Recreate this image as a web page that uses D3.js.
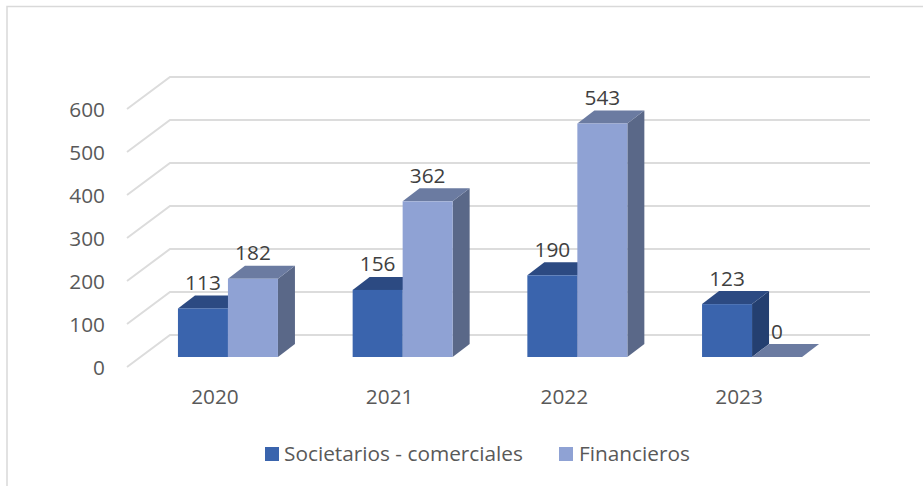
<!DOCTYPE html>
<html>
<head>
<meta charset="utf-8">
<script src="https://cdn.jsdelivr.net/npm/d3@7"></script>
<style>
html,body{margin:0;padding:0;background:#fff;overflow:hidden}
svg{display:block}
text{font-family:"Open Sans",sans-serif}
</style>
</head>
<body>
<svg id="chart" width="923" height="486"></svg>
<script>
const categories = ["2020","2021","2022","2023"];
const seriesNames = ["Societarios - comerciales","Financieros"];
const societarios = [113,156,190,123];
const financieros = [182,362,543,0];
const yTicks = [0,100,200,300,400,500,600];
const seriesColors = [
  {front:"#3A64AD",top:"#2C4A82",side:"#243F70"},
  {front:"#8FA2D4",top:"#6B7BA1",side:"#5A6888"}
];

const svg = d3.select("#chart");
const wallDx = 43, wallDy = -32;      // floor depth of the 3D box
const barInset = 10;                  // bars stand this far up the floor
const barDx = 17, barDy = -13;        // bar depth
const barW = 50;
const fontSize = 20.8;

const x = d3.scaleBand().domain(categories).range([127.6,826.4]).padding(0);
const y = d3.scaleLinear().domain([0,600]).range([367,109]);

// chart frame
svg.append("path").attr("d","M7,486V6.5H923").attr("fill","none")
  .attr("stroke","#d9d9d9").attr("stroke-width",1.5);

// gridlines on the walls
const grid = svg.append("g").attr("fill","none").attr("stroke","#dcdcdc").attr("stroke-width",2);
yTicks.forEach(t=>{
  const p = d3.path();
  p.moveTo(127,y(t));
  p.lineTo(127+wallDx,y(t)+wallDy);
  p.lineTo(870,y(t)+wallDy);
  grid.append("path").attr("d",p.toString());
});

// axes
const yAxis = svg.append("g").attr("transform","translate(110,1)")
  .call(d3.axisLeft(y).tickValues(yTicks).tickSize(0).tickPadding(5));
const xAxis = svg.append("g").attr("transform","translate(0,382.5)")
  .call(d3.axisBottom(x).tickSize(0).tickPadding(7));
[yAxis,xAxis].forEach(a=>{
  a.select(".domain").remove();
  a.selectAll("text").attr("font-size",fontSize).attr("fill","#595959")
    .style("font-family",'"Open Sans",sans-serif');
});

// bars
const base = y(0)-barInset;
const h = v => y(0)-y(v);
const bars = svg.append("g");
categories.forEach((c,i)=>{
  const x0 = x(c)+x.bandwidth()/2+13-barW;
  [societarios[i],financieros[i]].forEach((v,s)=>{
    const L = x0+s*barW, R = L+barW, T = base-h(v), col = seriesColors[s];
    const g = bars.append("g");
    if(v>0) g.append("path").attr("fill",col.side)
      .attr("d",`M${R},${T}L${R+barDx},${T+barDy}V${base+barDy}L${R},${base}Z`);
    g.append("path").attr("fill",col.top)
      .attr("d",`M${L},${T}L${L+barDx},${T+barDy}H${R+barDx}L${R},${T}Z`);
    if(v>0) g.append("rect").attr("x",L).attr("y",T).attr("width",barW).attr("height",h(v))
      .attr("fill",col.front);
  });
});

// data labels
categories.forEach((c,i)=>{
  const x0 = x(c)+x.bandwidth()/2+13-barW;
  [societarios[i],financieros[i]].forEach((v,s)=>{
    svg.append("text").attr("x",x0+s*barW+barW/2).attr("y",base-h(v)-18.5)
      .attr("text-anchor","middle").attr("font-size",fontSize).attr("fill","#404040").text(v);
  });
});

// legend
const legendItems = [{sw:265,tx:284},{sw:559,tx:579}];
seriesNames.forEach((n,i)=>{
  svg.append("rect").attr("x",legendItems[i].sw).attr("y",447).attr("width",14).attr("height",14)
    .attr("fill",seriesColors[i].front);
  svg.append("text").attr("x",legendItems[i].tx).attr("y",461)
    .attr("font-size",fontSize).attr("fill","#595959").text(n);
});
</script>
</body>
</html>
